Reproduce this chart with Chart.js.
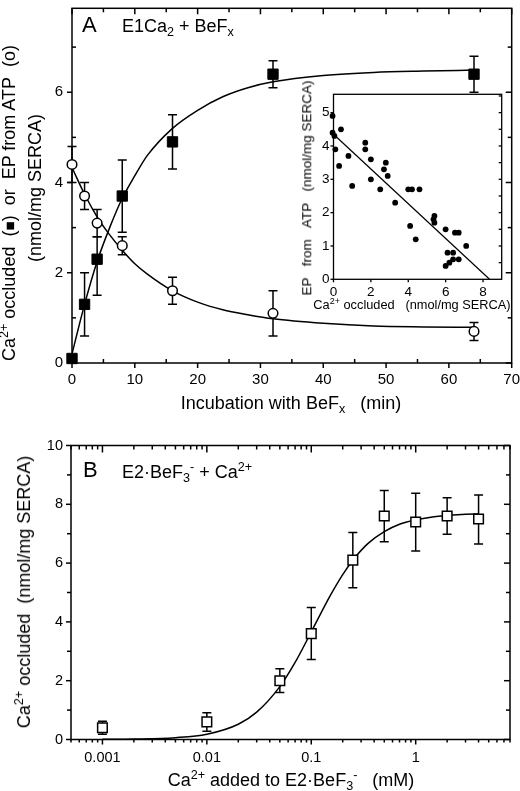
<!DOCTYPE html>
<html>
<head>
<meta charset="utf-8">
<script src="https://cdn.jsdelivr.net/npm/chart.js@4.4.0/dist/chart.umd.min.js"></script>
<style>
  html, body { margin: 0; padding: 0; background: #fff; }
  #fig { position: relative; width: 520px; height: 791px; overflow: hidden; }
  canvas { position: absolute; }
  .t { position: absolute; white-space: nowrap; font-family: "Liberation Sans", Arial, sans-serif; color: #000; line-height: 1; }
  .rot { transform: translate(-50%, -50%) rotate(-90deg); }
  .ctr { transform: translate(-50%, -50%); }
  .lft { transform: translateY(-50%); }
  sup, sub { font-size: 70%; line-height: 0; position: relative; vertical-align: baseline; }
  sup { top: -0.55em; }
  sub { top: 0.35em; }
</style>
</head>
<body>
<div id="fig">
  <canvas id="chartA" width="520" height="420" style="left:0;top:0"></canvas>
  <canvas id="chartInset" width="230" height="230" style="left:290px;top:84px"></canvas>
  <canvas id="chartB" width="520" height="361" style="left:0;top:430px"></canvas>

  <!-- panel A text -->
  <div class="t lft" style="left:82px;top:25px;font-size:22px">A</div>
  <div class="t lft" style="left:122px;top:26px;font-size:18px">E1Ca<sub>2</sub> + BeF<sub>x</sub></div>
  <div class="t rot" style="left:9px;top:203px;font-size:18px">Ca<sup>2+</sup> occluded&nbsp;&nbsp;(<span style="font-size:85%">■</span>)&nbsp;&nbsp;or&nbsp;&nbsp;EP from ATP&nbsp;&nbsp;(o)</div>
  <div class="t rot" style="left:35px;top:188px;font-size:18px">(nmol/mg SERCA)</div>
  <div class="t ctr" style="left:291px;top:403px;font-size:18px">Incubation with BeF<sub>x</sub>&nbsp;&nbsp;&nbsp;(min)</div>

  <!-- inset text -->
  <div class="t rot" style="left:307px;top:188px;font-size:13.5px">EP&nbsp;&nbsp;&nbsp;from&nbsp;&nbsp;&nbsp;ATP&nbsp;&nbsp;&nbsp;(nmol/mg SERCA)</div>
  <div class="t ctr" style="left:412px;top:305px;font-size:12.8px">Ca<sup>2+</sup> occluded&nbsp;&nbsp;&nbsp;(nmol/mg SERCA)</div>

  <!-- panel B text -->
  <div class="t lft" style="left:83px;top:470px;font-size:22px">B</div>
  <div class="t lft" style="left:122px;top:472px;font-size:18px">E2·BeF<sub>3</sub><sup>-</sup> + Ca<sup>2+</sup></div>
  <div class="t rot" style="left:24px;top:592px;font-size:18px">Ca<sup>2+</sup> occluded&nbsp;&nbsp;(nmol/mg SERCA)</div>
  <div class="t ctr" style="left:291px;top:780px;font-size:18px">Ca<sup>2+</sup> added to E2·BeF<sub>3</sub><sup>-</sup>&nbsp;&nbsp;&nbsp;(mM)</div>
</div>

<script>
const FONT = '"Liberation Sans", Arial, sans-serif';

// --- Panel A: incubation time course ---
const timeMin = [0, 2, 4, 8, 16, 32, 64];
const occluded = [0.1, 1.3, 2.3, 3.7, 4.9, 6.4, 6.4];
const occludedLo = [0.1, 0.6, 1.5, 2.9, 4.3, 6.1, 6.0];
const occludedHi = [0.1, 2.0, 2.8, 4.5, 5.5, 6.7, 6.8];
const epAtp = [4.4, 3.7, 3.1, 2.6, 1.6, 1.1, 0.7];
const epAtpLo = [4.0, 3.4, 2.8, 2.4, 1.3, 0.6, 0.5];
const epAtpHi = [4.8, 4.0, 3.4, 2.8, 1.9, 1.6, 0.9];
// fitted curves
const fitTime = [0, 2, 4, 6, 8, 10, 12, 16, 20, 24, 28, 32, 40, 48, 56, 64];
const occludedFit = [0.2, 1.3, 2.25, 3.0, 3.65, 4.15, 4.6, 5.2, 5.6, 5.9, 6.1, 6.23, 6.37, 6.44, 6.47, 6.49];
const epAtpFit = [4.33, 3.74, 3.24, 2.84, 2.5, 2.2, 1.97, 1.6, 1.35, 1.18, 1.07, 0.98, 0.88, 0.82, 0.8, 0.79];

const ticksAx = [0, 10, 20, 30, 40, 50, 60, 70];
const minorAx = [5, 15, 25, 35, 45, 55, 65];
const ticksAy = [0, 2, 4, 6];
const minorAy = [1, 3, 5, 7];

// --- Inset: EP vs Ca2+ occluded ---
const insetOccl = [-0.05, -0.05, 0.05, 0.4, 0.1, 0.3, 0.8, 1.0, 1.7, 1.7, 2.0, 2.0, 2.5, 2.7, 2.8, 2.9, 3.3, 4.0, 4.2, 4.6, 4.1, 4.4, 5.35, 5.4, 5.4, 6.0, 6.0, 6.1, 6.2, 6.4, 6.4, 6.5, 6.7, 6.7, 7.1];
const insetEp = [4.9, 4.4, 4.3, 4.5, 3.9, 3.4, 3.7, 2.8, 4.1, 3.9, 3.6, 3.0, 2.7, 3.3, 3.5, 3.1, 2.3, 2.7, 2.7, 2.7, 1.6, 1.2, 1.8, 1.9, 1.7, 1.5, 0.4, 0.8, 0.5, 0.8, 0.6, 1.4, 1.4, 0.6, 1.0];
const insetLineX = [0, 8.35];
const insetLineY = [4.35, 0];
const ticksIx = [0, 2, 4, 6, 8];
const ticksIy = [0, 1, 2, 3, 4, 5];
const minorIy = [0.5, 1, 1.5, 2, 2.5, 3, 3.5, 4, 4.5, 5, 5.5];

// --- Panel B: Ca2+ titration ---
const caAdded = [0.001, 0.01, 0.05, 0.1, 0.25, 0.5, 1, 2, 4];
const caOccl = [0.4, 0.6, 2.0, 3.6, 6.1, 7.6, 7.4, 7.6, 7.5];
const caOcclLo = [0.18, 0.28, 1.6, 2.72, 5.16, 6.73, 6.41, 6.98, 6.65];
const caOcclHi = [0.62, 0.91, 2.41, 4.49, 7.04, 8.47, 8.38, 8.22, 8.32];
const hillX = [0.001, 0.002, 0.005, 0.01, 0.02, 0.03, 0.05, 0.07, 0.1, 0.15, 0.2, 0.25, 0.35, 0.5, 0.7, 1, 1.5, 2, 3, 4];
const hillY = [0.005, 0.015, 0.063, 0.18, 0.52, 0.93, 1.8, 2.62, 3.66, 4.86, 5.61, 6.1, 6.67, 7.07, 7.32, 7.47, 7.58, 7.62, 7.66, 7.67];

const ticksBx = [0.001, 0.01, 0.1, 1];
const minorBx = [0.0005, 0.0006, 0.0007, 0.0008, 0.0009,
  0.002, 0.003, 0.004, 0.005, 0.006, 0.007, 0.008, 0.009,
  0.02, 0.03, 0.04, 0.05, 0.06, 0.07, 0.08, 0.09,
  0.2, 0.3, 0.4, 0.5, 0.6, 0.7, 0.8, 0.9,
  2, 3, 4, 5, 6, 7, 8];
const ticksBy = [0, 2, 4, 6, 8, 10];
const minorBy = [1, 3, 5, 7, 9];

const pts = (xs, ys) => xs.map((x, i) => ({ x: x, y: ys[i] }));

// frame box + tick marks; positive length = into the plot
const frameTicks = (cfg) => ({
    id: 'frameTicks',
    beforeDatasetsDraw(chart) {
        const { ctx, chartArea: a, scales: { x, y } } = chart;
        ctx.save();
        ctx.strokeStyle = '#000';
        ctx.lineWidth = cfg.lineWidth || 1.5;
        ctx.strokeRect(a.left, a.top, a.right - a.left, a.bottom - a.top);
        const side = (name, vals, len) => {
            (vals || []).forEach(v => {
                ctx.beginPath();
                if (name === 'bottom' || name === 'top') {
                    const px = x.getPixelForValue(v);
                    const y0 = name === 'bottom' ? a.bottom : a.top;
                    const dir = name === 'bottom' ? -1 : 1;
                    ctx.moveTo(px, y0);
                    ctx.lineTo(px, y0 + dir * len);
                } else {
                    const py = y.getPixelForValue(v);
                    const x0 = name === 'left' ? a.left : a.right;
                    const dir = name === 'left' ? 1 : -1;
                    ctx.moveTo(x0, py);
                    ctx.lineTo(x0 + dir * len, py);
                }
                ctx.stroke();
            });
        };
        ['bottom', 'top', 'left', 'right'].forEach(s => {
            const o = cfg[s];
            if (!o) return;
            side(s, o.major, o.majorLen);
            side(s, o.minor, o.minorLen);
        });
        ctx.restore();
    }
});

const errorBars = (sets, capHalf) => ({
    id: 'errorBars',
    beforeDatasetsDraw(chart) {
        const { ctx, scales: { x, y } } = chart;
        ctx.save();
        ctx.strokeStyle = '#000';
        ctx.lineWidth = 1.5;
        sets.forEach(s => {
            s.xs.forEach((xv, i) => {
                if (s.lo[i] === s.hi[i]) return;
                const px = x.getPixelForValue(xv);
                const top = y.getPixelForValue(s.hi[i]);
                const bot = y.getPixelForValue(s.lo[i]);
                ctx.beginPath();
                ctx.moveTo(px, top); ctx.lineTo(px, bot);
                ctx.moveTo(px - capHalf, top); ctx.lineTo(px + capHalf, top);
                ctx.moveTo(px - capHalf, bot); ctx.lineTo(px + capHalf, bot);
                ctx.stroke();
            });
        });
        ctx.restore();
    }
});

function axis(o) {
    return {
        type: o.type || 'linear',
        min: o.min,
        max: o.max,
        grid: { display: false, drawTicks: false },
        border: { display: false },
        ticks: {
            color: '#000',
            font: { family: FONT, size: o.size },
            padding: o.pad,
            autoSkip: false,
            maxRotation: 0,
            callback: v => String(v)
        },
        afterBuildTicks: s => { s.ticks = o.ticks.map(v => ({ value: v })); },
        afterFit: s => {
            if (o.height) s.height = o.height;
            if (o.width) s.width = o.width;
            s.paddingLeft = s.paddingRight = s.paddingTop = s.paddingBottom = 0;
        }
    };
}

const baseOptions = (padding, scales) => ({
    responsive: false,
    animation: false,
    events: [],
    layout: { padding: padding },
    plugins: { legend: { display: false }, tooltip: { enabled: false } },
    scales: scales
});

const curve = (data) => ({
    data: data, showLine: true, pointRadius: 0, borderColor: '#000', borderWidth: 1.5,
    cubicInterpolationMode: 'monotone', fill: false
});

// Panel A
new Chart(document.getElementById('chartA'), {
    type: 'scatter',
    data: {
        datasets: [
            { data: pts(timeMin, occluded), pointStyle: 'rect', pointRadius: 7.3, backgroundColor: '#000', borderColor: '#000', borderWidth: 1, clip: false },
            { data: pts(timeMin, epAtp), pointStyle: 'circle', pointRadius: 4.8, backgroundColor: '#fff', borderColor: '#000', borderWidth: 1.5, clip: false },
            curve(pts(fitTime, occludedFit)),
            curve(pts(fitTime, epAtpFit))
        ]
    },
    options: baseOptions({ top: 1, right: 8, left: 0, bottom: 0 }, {
        x: axis({ min: 0, max: 70, ticks: ticksAx, size: 15, pad: 8, height: 57 }),
        y: axis({ min: 0, max: 7.86, ticks: ticksAy, size: 15, pad: 9, width: 72 })
    }),
    plugins: [
        frameTicks({
            bottom: { major: ticksAx, majorLen: -5, minor: minorAx, minorLen: 4 },
            top: { major: ticksAx, majorLen: 6, minor: minorAx, minorLen: 4 },
            left: { major: ticksAy, majorLen: -5, minor: minorAy, minorLen: 4 },
            right: { major: ticksAy, majorLen: 6, minor: minorAy, minorLen: 4 }
        }),
        errorBars([
            { xs: timeMin, lo: occludedLo, hi: occludedHi },
            { xs: timeMin, lo: epAtpLo, hi: epAtpHi }
        ], 4.5)
    ]
});

// Inset
new Chart(document.getElementById('chartInset'), {
    type: 'scatter',
    data: {
        datasets: [
            { data: pts(insetOccl, insetEp), pointStyle: 'circle', pointRadius: 2.9, backgroundColor: '#000', borderColor: '#000', borderWidth: 0, clip: false },
            { data: pts(insetLineX, insetLineY), showLine: true, pointRadius: 0, borderColor: '#000', borderWidth: 1.2 }
        ]
    },
    options: baseOptions({ top: 10.3, right: 18.3, left: 0, bottom: 0 }, {
        x: axis({ min: 0, max: 9, ticks: ticksIx, size: 13.5, pad: 5, height: 34.7 }),
        y: axis({ min: 0, max: 5.55, ticks: ticksIy, size: 13.5, pad: 4, width: 43.5 })
    }),
    plugins: [
        frameTicks({
            lineWidth: 1.3,
            bottom: { major: ticksIx, majorLen: -3 },
            left: { major: ticksIy, majorLen: -3 },
            right: { major: minorIy, majorLen: 3 }
        })
    ]
});

// Panel B
new Chart(document.getElementById('chartB'), {
    type: 'scatter',
    data: {
        datasets: [
            { data: pts(caAdded, caOccl), pointStyle: 'rect', pointRadius: 6.8, backgroundColor: '#fff', borderColor: '#000', borderWidth: 1.5, clip: false },
            curve(pts(hillX, hillY))
        ]
    },
    options: baseOptions({ top: 15.5, right: 10, left: 0, bottom: 0 }, {
        x: axis({ type: 'logarithmic', min: 0.0005, max: 8, ticks: ticksBx, size: 14.5, pad: 10, height: 51.5 }),
        y: axis({ min: 0, max: 10, ticks: ticksBy, size: 14.5, pad: 8, width: 71 })
    }),
    plugins: [
        frameTicks({
            bottom: { major: ticksBx, majorLen: -5, minor: minorBx, minorLen: -3 },
            top: { major: ticksBx, majorLen: 7, minor: minorBx, minorLen: 4 },
            left: { major: ticksBy, majorLen: -5, minor: minorBy, minorLen: -4 },
            right: { major: ticksBy, majorLen: 6, minor: minorBy, minorLen: 4 }
        }),
        errorBars([{ xs: caAdded, lo: caOcclLo, hi: caOcclHi }], 4.5)
    ]
});
</script>
</body>
</html>
